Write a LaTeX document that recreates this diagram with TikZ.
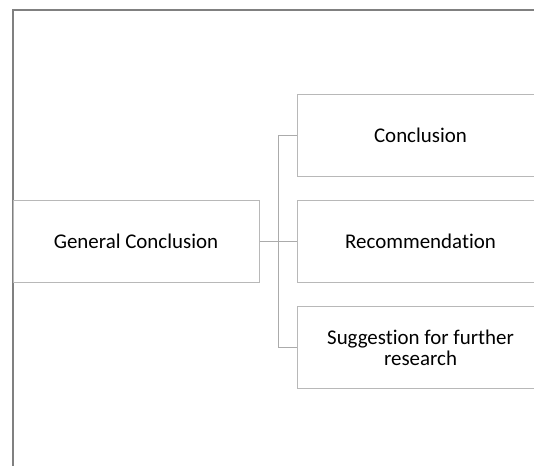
\documentclass[tikz,border=0pt]{standalone}
\usepackage{fontspec}
\setmainfont{Carlito}[Ligatures={NoCommon}]
\begin{document}
\begin{tikzpicture}[x=0.75pt,y=-0.75pt,
  frameline/.style={draw=black!50,line width=1.5pt},
  boxnode/.style={draw=black!28,line width=0.75pt,minimum width=184.5pt,minimum height=61.5pt,inner sep=0pt,align=center,font=\fontsize{15.7}{16}\selectfont},
  conn/.style={draw=black!33,line width=0.75pt}]
\useasboundingbox (0,0) rectangle (534,465);
\begin{scope}
\clip (0,0) rectangle (534,465);
\draw[frameline] (13,10) rectangle (560,480);
\node[boxnode] (gc) at (136,241) {General Conclusion};
\node[boxnode] (c1) at (420.5,135) {Conclusion};
\node[boxnode] (c2) at (420.5,241) {Recommendation};
\node[boxnode] (c3) at (420.5,347.5) {Suggestion for further\\research};
\coordinate (j) at (278,241);
\draw[conn] (gc.east) -- (j);
\draw[conn] (j) |- (c1.west);
\draw[conn] (j) -- (c2.west);
\draw[conn] (j) |- (c3.west);
\end{scope}
\end{tikzpicture}
\end{document}
